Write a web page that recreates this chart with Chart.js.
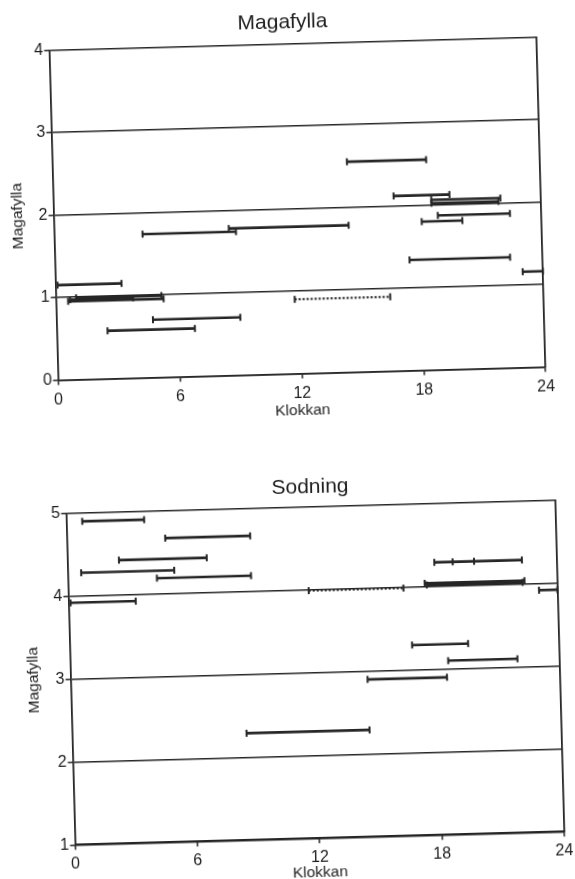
<!DOCTYPE html>
<html>
<head>
<meta charset="utf-8">
<script src="https://cdn.jsdelivr.net/npm/chart.js@4.4.1/dist/chart.umd.min.js"></script>
<style>
  body { margin: 0; background: #fff; width: 575px; height: 879px; overflow: hidden; position: relative; }
  canvas { display: block; }
  .panel { position: absolute; left: 0; }
  /* the scanned page is a little tilted */
  #top { top: 0; transform-origin: 297.4px 208.5px; transform: rotate(-1.55deg); }
  #bottom { top: 440px; transform-origin: 315px 232.5px; transform: rotate(-1.55deg); }
</style>
</head>
<body>
<div class="panel" id="top"><canvas id="magaChart" width="575" height="440"></canvas></div>
<div class="panel" id="bottom"><canvas id="sodChart" width="575" height="450"></canvas></div>
<script>
const hourTicks = [0, 6, 12, 18, 24];
const magaTicks = [0, 1, 2, 3, 4];
const sodTicks = [1, 2, 3, 4, 5];

// Magafylla - each bar: start hour, end hour, level
const magaStart = [14.5, 16.75, 18.6, 18.6, 18.9, 18.1, 4.35, 8.6, 17.45, 23.0, 0.1, 0.6, 0.7, 1.0, 4.75, 2.5];
const magaEnd   = [18.4, 19.5, 22.0, 21.9, 22.45, 20.1, 8.95, 14.5, 22.4, 24.0, 3.25, 5.3, 3.8, 5.2, 9.05, 6.8];
const magaLevel = [2.55, 2.12, 2.06, 2.02, 1.87, 1.80, 1.74, 1.78, 1.34, 1.16, 1.15, 0.95, 0.97, 0.99, 0.70, 0.58];
// dotted bar
const magaDotStart = [11.75];
const magaDotEnd = [16.45];
const magaDotLevel = [0.90];

// Sodning
const sodStart = [0.78, 4.83, 2.53, 0.66, 4.37, 18.0, 17.5, 17.6, 23.1, 0.1, 16.8, 18.55, 14.57, 8.56];
const sodEnd   = [3.82, 9.0, 6.84, 5.23, 8.99, 22.3, 22.4, 22.3, 24.0, 3.3, 19.55, 21.95, 18.47, 14.6];
const sodLevel = [4.90, 4.67, 4.42, 4.28, 4.19, 4.29, 4.04, 4.02, 3.92, 3.92, 3.30, 3.10, 2.90, 2.29];
const sodDotStart = [11.8];
const sodDotEnd = [16.45];
const sodDotLevel = [3.99];
// extra tick marks along one bar
const sodMidHour = [18.9, 19.95];
const sodMidLevel = [4.29, 4.29];

const ink = '#262626';
Chart.defaults.font.family = '"Liberation Sans", Arial, sans-serif';
Chart.defaults.color = '#1e1e1e';

function segment(x0, x1, y, dashed) {
    return {
        data: [{x: x0, y: y}, {x: x1, y: y}],
        showLine: true,
        borderColor: ink,
        borderWidth: dashed ? 2.2 : 2.6,
        borderDash: dashed ? [2, 2] : [],
        pointStyle: 'line',
        pointRotation: 90,
        pointRadius: 3.5,
        pointHoverRadius: 3.5,
        pointBorderWidth: 2,
        pointBorderColor: ink,
        clip: false
    };
}

function buildSets(start, end, level, dotStart, dotEnd, dotLevel, midHour, midLevel) {
    const sets = start.map((s, i) => segment(s, end[i], level[i], false));
    dotStart.forEach((s, i) => sets.push(segment(s, dotEnd[i], dotLevel[i], true)));
    if (midHour) {
        const marks = segment(0, 0, 0, false);
        marks.data = midHour.map((h, i) => ({x: h, y: midLevel[i]}));
        marks.showLine = false;
        sets.push(marks);
    }
    return sets;
}

function makeOptions(c) {
    return {
        responsive: false,
        animation: false,
        events: [],
        layout: { padding: 0 },
        plugins: {
            legend: { display: false },
            tooltip: { enabled: false },
            title: {
                display: true,
                text: c.title,
                fullSize: c.titleFull,
                font: { size: 21, weight: 'normal' },
                padding: { top: c.titleTop, bottom: c.titleBottom }
            }
        },
        scales: {
            x: {
                type: 'linear',
                min: 0,
                max: 24,
                afterBuildTicks: s => { s.ticks = hourTicks.map(v => ({value: v})); },
                afterFit: s => { s.height = c.xHeight; },
                grid: { drawOnChartArea: false, tickLength: 5, color: ink, lineWidth: 1.5 },
                border: { color: ink, width: 1.8 },
                ticks: { padding: c.xTickPad, font: { size: 16 }, maxRotation: 0 },
                title: { display: true, text: 'Klokkan', font: { size: 15.5 }, padding: { top: 0, bottom: c.xTitleBottom } }
            },
            y: {
                type: 'linear',
                min: c.yTicks[0],
                max: c.yTicks[c.yTicks.length - 1],
                afterBuildTicks: s => { s.ticks = c.yTicks.map(v => ({value: v})); },
                afterFit: s => { s.width = c.yWidth; },
                grid: { tickLength: 5, color: ink, lineWidth: 1.5 },
                border: { color: ink, width: 1.8 },
                ticks: { padding: 1, font: { size: 16 } },
                title: { display: true, text: 'Magafylla', font: { size: 15.5 }, padding: { top: c.yTitleTop, bottom: 0 } }
            },
            yR: {
                type: 'linear',
                position: 'right',
                afterFit: s => { s.width = c.rightAxis; },
                grid: { display: false },
                ticks: { display: false },
                border: { display: true, color: ink, width: 1.8 }
            }
        }
    };
}

new Chart(document.getElementById('magaChart'), {
    type: 'scatter',
    data: { datasets: buildSets(magaStart, magaEnd, magaLevel, magaDotStart, magaDotEnd, magaDotLevel) },
    options: makeOptions({
        title: 'Magafylla', yTicks: magaTicks, titleFull: true,
        rightAxis: 33.8, titleTop: 9.4, titleBottom: 8.9,
        xHeight: 66.5, xTickPad: 5, xTitleBottom: 19.5, yWidth: 53.5, yTitleTop: 8
    })
});

new Chart(document.getElementById('sodChart'), {
    type: 'scatter',
    data: { datasets: buildSets(sodStart, sodEnd, sodLevel, sodDotStart, sodDotEnd, sodDotLevel, sodMidHour, sodMidLevel) },
    options: makeOptions({
        title: 'Sodning', yTicks: sodTicks, titleFull: false,
        rightAxis: 15.5, titleTop: 34.4, titleBottom: 7.2,
        xHeight: 51.7, xTickPad: 5, xTitleBottom: 7.5, yWidth: 70.5, yTitleTop: 24.7
    })
});
</script>
</body>
</html>
